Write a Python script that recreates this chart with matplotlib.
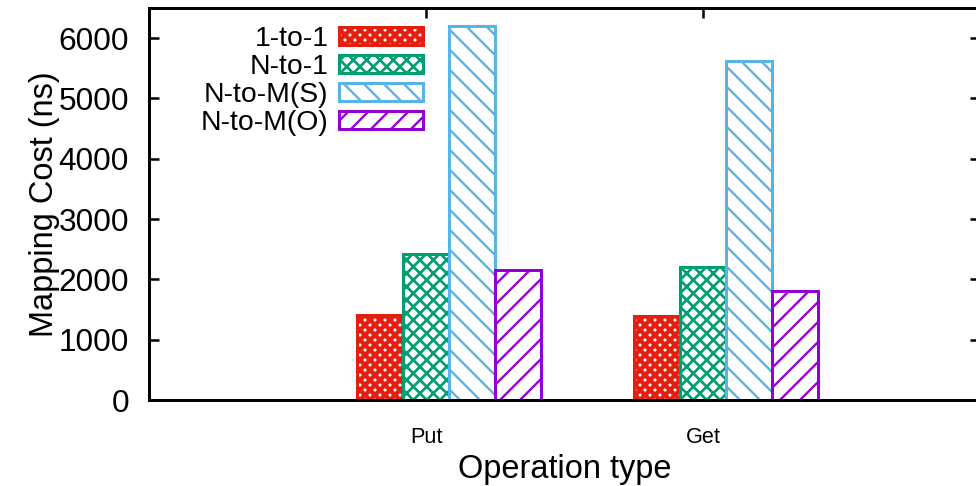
import numpy as np
import matplotlib
matplotlib.use('Agg')
import matplotlib.pyplot as plt

# Coste de mapeo por tipo de operacion (ns)
operaciones = ['Put', 'Get']
series = ['1-to-1', 'N-to-1', 'N-to-M(S)', 'N-to-M(O)']
coste_1a1 = [1410, 1400]
coste_na1 = [2420, 2200]
coste_nam_s = [6200, 5620]
coste_nam_o = [2160, 1800]

colores = ['#e51e10', '#009e73', '#56b4e9', '#9400d3']
tramas = ['xxxx', 'xxx', '\\\\', '//']
grosor_trama = [2.6, 1.6, 1.4, 1.4]

plt.rcParams['font.family'] = ['Liberation Sans', 'DejaVu Sans']

DPI = 120
fig = plt.figure(figsize=(976 / DPI, 486 / DPI), dpi=DPI)
ax = fig.add_axes([149 / 976, 1 - 400 / 486, (980 - 149) / 976, (400 - 8) / 486])

x = np.arange(1, len(operaciones) + 1)
ancho = 1 / 6
for i, valores in enumerate([coste_1a1, coste_na1, coste_nam_s, coste_nam_o]):
    barras = ax.bar(x + (i - 1) * ancho, valores, ancho, facecolor='white',
                    edgecolor=colores[i], hatch=tramas[i], linewidth=1.8,
                    label=series[i])
    for b in barras:
        b.set_hatch_linewidth(grosor_trama[i])

ax.set_xlim(0, 3)
ax.set_ylim(0, 6500)
ax.set_xticks(x)
ax.set_xticklabels(operaciones, fontsize=13)
ax.set_yticks(np.arange(0, 6001, 1000))
ax.tick_params(axis='y', labelsize=19, direction='in', length=6, width=1.5,
               right=True, pad=12)
ax.tick_params(axis='x', direction='in', length=6, width=1.5, top=True, pad=16)
ax.set_axisbelow(True)
for lado in ax.spines.values():
    lado.set_linewidth(1.8)

ax.set_ylabel('Mapping Cost (ns)', fontsize=19.5)
ax.yaxis.set_label_coords(-0.107, 0.5)
ax.set_xlabel('Operation type', fontsize=19.5, labelpad=4)

leg = ax.legend(loc='upper left', bbox_to_anchor=(0.035, 1.012), frameon=False,
                markerfirst=False, fontsize=17, handlelength=2.95,
                handleheight=0.6, handletextpad=0.37, labelspacing=0.07,
                borderpad=0.3)
for h, grosor in zip(leg.legend_handles, grosor_trama):
    h.set_linewidth(1.8)
    h.set_hatch_linewidth(grosor)

fig.savefig('out.png', dpi=DPI)
